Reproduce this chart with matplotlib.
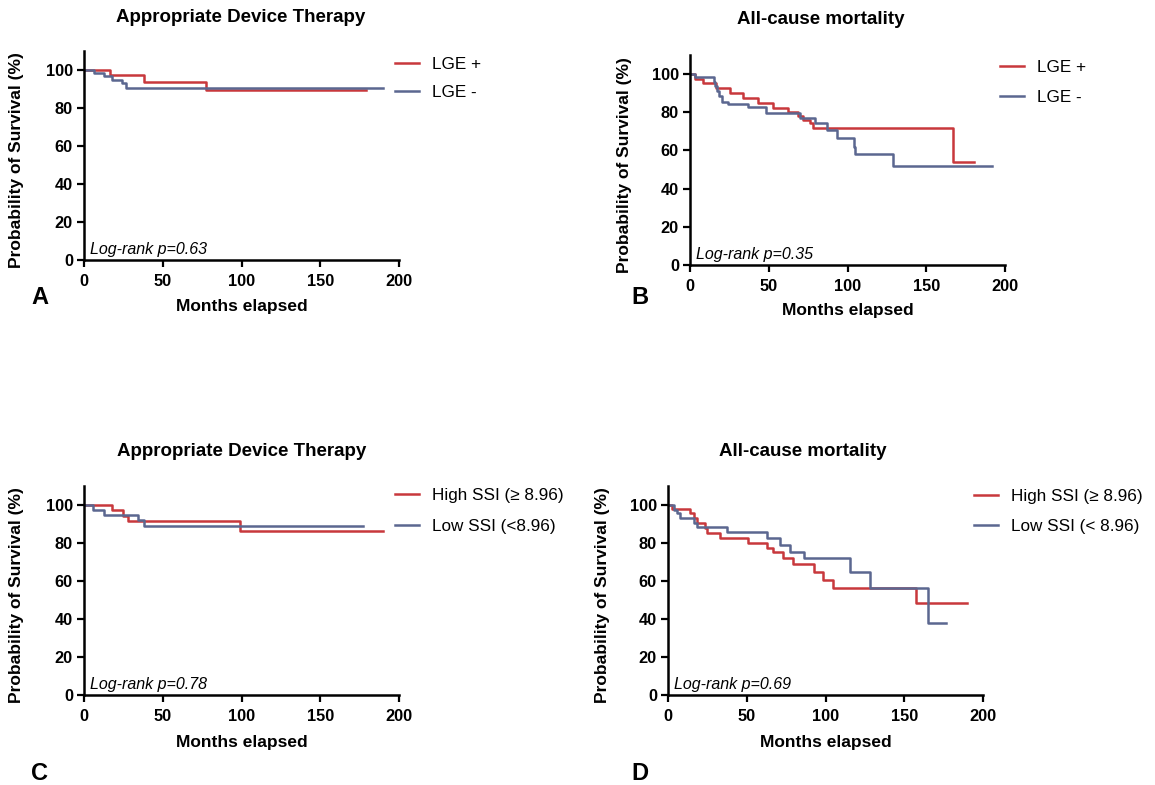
import matplotlib
matplotlib.use("Agg")
import matplotlib.pyplot as plt

plt.rcParams['font.family'] = ['Liberation Sans', 'DejaVu Sans']

# Panel A: Appropriate Device Therapy (LGE)
a_red_t = [0, 16.5, 38, 77.5, 179]
a_red_s = [100, 97.4, 93.9, 89.5, 89.5]
a_blue_t = [0, 6.3, 12.7, 17.5, 24.3, 26.6, 190]
a_blue_s = [100, 98.4, 96.8, 95.0, 93.0, 90.4, 90.4]

# Panel B: All-cause mortality (LGE)
b_red_t = [0, 3, 8.3, 16.7, 25.2, 33.7, 43.2, 52.7, 62.2, 68.6, 71.7, 76, 78, 166.8, 180]
b_red_s = [100, 97.4, 95.3, 92.6, 90.0, 87.4, 84.8, 82.2, 79.9, 77.8, 76.1, 74.3, 72.0, 54.2, 54.2]
b_blue_t = [0, 3, 15, 16, 17, 18.5, 20, 24, 36.8, 48, 70, 79.4, 86.7, 93.1, 104.3, 105, 129.1, 191.5]
b_blue_s = [100, 98.3, 96.0, 93.5, 91.0, 88.5, 85.6, 84.3, 82.7, 79.5, 76.9, 74.3, 70.5, 66.4, 62.0, 58.0, 52.1, 52.1]

# Panel C: Appropriate Device Therapy (SSI)
c_red_t = [0, 18, 25, 28, 99, 190]
c_red_s = [100, 97.2, 94.4, 91.7, 86.1, 86.1]
c_blue_t = [0, 6, 13, 34, 38, 177]
c_blue_s = [100, 97.5, 95.0, 92.3, 88.9, 88.9]

# Panel D: All-cause mortality (SSI)
d_red_t = [0, 2.5, 14.1, 16.2, 18.5, 23.6, 25, 33.1, 51.1, 62.7, 66.9, 73.3, 79.6, 92.7, 98.6, 105, 157.3, 190]
d_red_s = [100, 97.9, 95.6, 93.0, 90.4, 88.0, 85.1, 82.8, 79.8, 77.2, 75.1, 71.9, 68.8, 64.6, 60.5, 56.1, 48.2, 48.2]
d_blue_t = [0, 3.6, 5.7, 7.8, 16.2, 18.3, 37.4, 62.7, 71.2, 77.5, 86.4, 115.5, 128.2, 165.2, 176.3]
d_blue_s = [100, 97.4, 95.6, 93.3, 90.4, 88.6, 85.6, 82.5, 78.9, 75.4, 71.9, 64.6, 56.5, 37.7, 37.7]

titles = ["Appropriate Device Therapy", "All-cause mortality",
          "Appropriate Device Therapy", "All-cause mortality"]
legend_labels = [["LGE +", "LGE -"], ["LGE +", "LGE -"],
                 ["High SSI (\u2265 8.96)", "Low SSI (<8.96)"],
                 ["High SSI (\u2265 8.96)", "Low SSI (< 8.96)"]]
pvals = ["Log-rank p=0.63", "Log-rank p=0.35", "Log-rank p=0.78", "Log-rank p=0.69"]
letters = ["A", "B", "C", "D"]
x_ticks = [0, 50, 100, 150, 200]
y_ticks = [0, 20, 40, 60, 80, 100]

RED = "#c8383c"
BLUE = "#5b6790"

W, H = 1155, 785
fig = plt.figure(figsize=(W / 100, H / 100), dpi=100)

def fx(px):
    return px / W

def fy(py):
    return 1 - py / H

# axes rectangles in pixels: (x0, x200, y0, y110)
rects = [
    (84, 399, 260, 51),
    (690, 1005, 265, 55),
    (84, 399, 695, 486),
    (668, 983, 695, 486),
]
title_pos = [(241, 18), (821, 20), (242, 452), (803, 452)]
ylabel_x = [17, 625, 17, 603]
xlabel_y = [307, 311, 742, 742]
letter_pos = [(40, 298), (640, 298), (40, 773), (640, 773)]
legend_pos = [(395, 57), (1000, 60), (395, 488), (974, 489)]
legend_spacing = [0.75, 0.85, 0.95, 0.85]

data = [
    (a_red_t, a_red_s, a_blue_t, a_blue_s),
    (b_red_t, b_red_s, b_blue_t, b_blue_s),
    (c_red_t, c_red_s, c_blue_t, c_blue_s),
    (d_red_t, d_red_s, d_blue_t, d_blue_s),
]

for i in range(4):
    x0, x1, y0, y1 = rects[i]
    ax = fig.add_axes([fx(x0), fy(y0), (x1 - x0) / W, (y0 - y1) / H])
    rt, rs, bt, bs = data[i]
    l1, = ax.step(rt, rs, where='post', color=RED, lw=1.8, label=legend_labels[i][0])
    l2, = ax.step(bt, bs, where='post', color=BLUE, lw=1.8, label=legend_labels[i][1])
    ax.set_xlim(0, 200)
    ax.set_ylim(0, 110)
    ax.set_xticks(x_ticks)
    ax.set_yticks(y_ticks)
    for s in ['top', 'right']:
        ax.spines[s].set_visible(False)
    for s in ['left', 'bottom']:
        ax.spines[s].set_linewidth(1.8)
    ax.tick_params(width=1.6, length=5, labelsize=11.8)
    ax.tick_params(axis='y', pad=3)
    ax.tick_params(axis='x', pad=5)
    for lab in ax.get_xticklabels() + ax.get_yticklabels():
        lab.set_fontweight('bold')
    ax.text(0.02, 0.015, pvals[i], transform=ax.transAxes, fontsize=11.5,
            style='italic', ha='left', va='bottom')
    cx = (x0 + x1) / 2
    fig.text(fx(cx), fy(xlabel_y[i]), "Months elapsed", fontsize=12.5,
             fontweight='bold', ha='center', va='center')
    fig.text(fx(ylabel_x[i]), fy((y0 + y1) / 2 + 5), "Probability of Survival (%)",
             fontsize=12.5, fontweight='bold', rotation=90, ha='center', va='center')
    tx, ty = title_pos[i]
    fig.text(fx(tx), fy(ty), titles[i], fontsize=13.5, fontweight='bold',
             ha='center', va='center')
    lx, ly = letter_pos[i]
    fig.text(fx(lx), fy(ly), letters[i], fontsize=17, fontweight='bold',
             ha='center', va='center')
    lgx, lgy = legend_pos[i]
    ax.legend(handles=[l1, l2], loc='upper left', bbox_to_anchor=(fx(lgx), fy(lgy)),
              bbox_transform=fig.transFigure, frameon=False, fontsize=12.3,
              handlelength=1.4, handletextpad=0.75, labelspacing=legend_spacing[i],
              borderpad=0, borderaxespad=0)

fig.savefig("out.png", dpi=100)
